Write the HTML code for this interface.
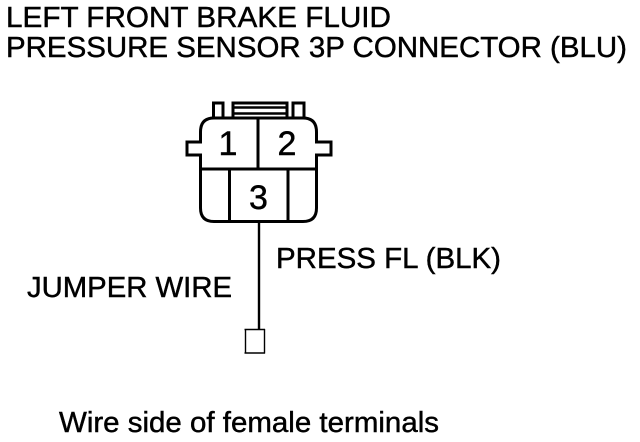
<!DOCTYPE html>
<html>
<head>
<meta charset="utf-8">
<style>
html,body{margin:0;padding:0;background:#fff;width:640px;height:442px;overflow:hidden}
svg{display:block}
text{font-family:"Liberation Sans",sans-serif;fill:#000;stroke:#000;stroke-width:.45px}
</style>
</head>
<body>
<svg width="640" height="442" viewBox="0 0 640 442" xmlns="http://www.w3.org/2000/svg">
<rect width="640" height="442" fill="#fff"/>
<g font-size="28.500">
<text x="6" y="27" textLength="385" lengthAdjust="spacingAndGlyphs">LEFT FRONT BRAKE FLUID</text>
<text x="6" y="57" textLength="621" lengthAdjust="spacingAndGlyphs">PRESSURE SENSOR 3P CONNECTOR (BLU)</text>
<text x="276" y="268" textLength="225" lengthAdjust="spacingAndGlyphs">PRESS FL (BLK)</text>
<text x="27" y="297" textLength="205" lengthAdjust="spacingAndGlyphs">JUMPER WIRE</text>
<text x="59" y="432" textLength="380" lengthAdjust="spacingAndGlyphs">Wire side of female terminals</text>
</g>
<g fill="none" stroke="#000" stroke-width="3">
<path d="M213.500 118 V103 H223 V118 M233 118 V103 H287 V118 M293 118 V103 H304 V118"/>
<path d="M233 107.500 H287 M233 113.500 H287" stroke-width="2.600"/>
<path d="M214 118 H303 Q316.500 118 316.500 132 V142 H331 V155 H316.500 V208 Q316.500 221.500 303 221.500 H214 Q200.500 221.500 200.500 208 V155 H187 V142 H200.500 V132 Q200.500 118 214 118 Z"/>
<path d="M258 118 V169 M200.500 169 H316.500 M229.500 169 V221.500 M288 169 V221.500"/>
<path d="M259 222 V330" stroke-width="2.400"/>
<path d="M244.500 329.500 H265 M244.500 353 H265 M245.500 329 V353.500 M264.500 329 V353.500" stroke-width="1.400"/>
</g>
<g font-size="34" text-anchor="middle">
<text x="228" y="155">1</text>
<text x="287" y="155">2</text>
<text x="258.500" y="209">3</text>
</g>
</svg>
</body>
</html>
